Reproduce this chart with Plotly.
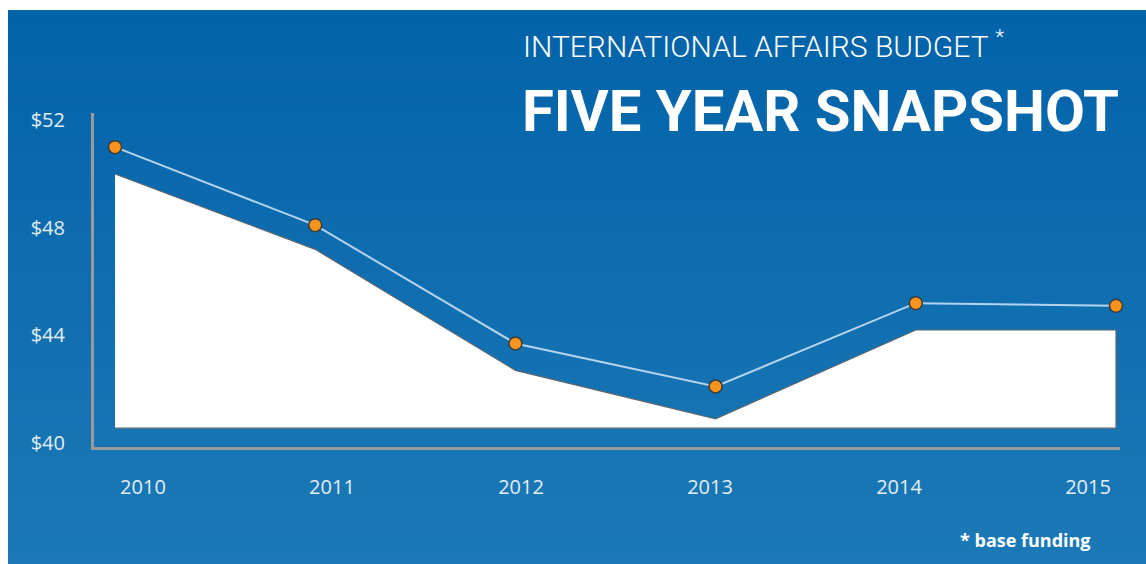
import plotly.graph_objects as go

# ---- data ----
years = [2010, 2011, 2012, 2013, 2014, 2015]
budget = [51.0, 48.1, 43.7, 42.1, 45.2, 45.1]          # orange-marker series
base_area = [50.0, 47.2, 42.7, 40.9, 44.2, 44.2]       # white area series
area_floor = 40.55
y_ticks = [40, 44, 48, 52]
year_labels = ["2010", "2011", "2012", "2013", "2014", "2015"]

W, H = 1146, 564
L, R, T, B = 94, 1120, 113, 447   # plot area in px


def px_x(px):
    return (px - L) / (R - L)


def px_y(py):
    return (B - py) / (B - T)


fig = go.Figure()

# white area (polygon from the two arrays)
fig.add_trace(go.Scatter(
    x=years + years[::-1],
    y=base_area + [area_floor] * len(years),
    fill="toself", fillcolor="white", mode="lines",
    line=dict(color="#5a6670", width=1.2),
    hoverinfo="skip", showlegend=False,
))

# budget line + markers
fig.add_trace(go.Scatter(
    x=years, y=budget, mode="lines+markers",
    line=dict(color="#b3d3ee", width=2),
    marker=dict(size=13, color="#F7941D", line=dict(color="#3a3a3a", width=1.5)),
    showlegend=False, cliponaxis=False,
))

# invisible trace for label axis
fig.add_trace(go.Scatter(
    x=years, y=budget, xaxis="x2", mode="markers",
    marker=dict(opacity=0), hoverinfo="skip", showlegend=False,
))

# gradient background bands
top_c = (0x03, 0x63, 0xA9)
bot_c = (0x1C, 0x79, 0xB6)
N = 40
y_top, y_bot = 10, H
shapes = []
for i in range(N):
    t = i / (N - 1)
    c = tuple(round(top_c[k] + (bot_c[k] - top_c[k]) * t) for k in range(3))
    p0 = y_top + (y_bot - y_top) * i / N
    p1 = y_top + (y_bot - y_top) * (i + 1) / N + 3
    shapes.append(dict(
        type="rect", xref="paper", yref="paper", layer="below",
        x0=px_x(8), x1=px_x(W + 4), y0=px_y(min(p1, H + 4)), y1=px_y(p0),
        fillcolor="rgb(%d,%d,%d)" % c, line=dict(width=0, color="rgba(0,0,0,0)"),
    ))

tick_font = dict(family="Open Sans, Liberation Sans, sans-serif", size=20, color="#e2edf6")

fig.update_layout(
    width=W, height=H,
    margin=dict(l=L, r=W - R, t=T, b=H - B, pad=0),
    paper_bgcolor="white", plot_bgcolor="rgba(0,0,0,0)",
    shapes=shapes,
    xaxis=dict(
        range=[2009.895, 2015.02], showgrid=False, zeroline=False,
        showline=True, linecolor="#9a9a9a", linewidth=3,
        showticklabels=False, ticks="",
    ),
    xaxis2=dict(
        overlaying="x", anchor="y", side="bottom",
        range=[2009.741, 2015.169], showgrid=False, zeroline=False,
        showline=False, tickvals=years, ticktext=year_labels,
        ticks="outside", ticklen=22, tickcolor="rgba(0,0,0,0)",
        tickfont=tick_font,
    ),
    yaxis=dict(
        range=[39.85, 52.27], showgrid=False, zeroline=False,
        showline=True, linecolor="#9a9a9a", linewidth=3,
        tickvals=y_ticks, ticktext=["$%d" % v for v in y_ticks],
        ticks="outside", ticklen=22, tickcolor="rgba(0,0,0,0)",
        tickfont=tick_font,
    ),
    annotations=[
        dict(text="INTERNATIONAL AFFAIRS BUDGET <sup>*</sup>", xref="paper", yref="paper",
             x=px_x(521), y=px_y(45), xanchor="left", yanchor="middle", showarrow=False,
             font=dict(family="Roboto, sans-serif", size=30, weight=300, color="white")),
        dict(text="FIVE YEAR SNAPSHOT", xref="paper", yref="paper",
             x=px_x(520), y=px_y(111), xanchor="left", yanchor="middle", showarrow=False,
             font=dict(family="Roboto, sans-serif", size=58, weight=700, color="white")),
        dict(text="<b>* base funding</b>", xref="paper", yref="paper",
             x=px_x(1093), y=px_y(540), xanchor="right", yanchor="middle", showarrow=False,
             font=dict(family="Open Sans, sans-serif", size=18, color="white")),
    ],
)

fig.write_html("out.html")
